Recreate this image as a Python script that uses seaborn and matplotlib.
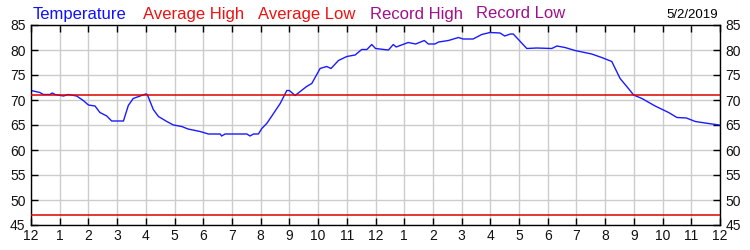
import matplotlib
matplotlib.use("Agg")
import matplotlib.pyplot as plt
import seaborn as sns
import pandas as pd

# ---- data ----
hours = [0.0, 0.31, 0.43, 0.66, 0.74, 0.84, 1.13, 1.3, 1.59, 1.82, 2.0, 2.23, 2.4, 2.64, 2.81,
         3.22, 3.39, 3.56, 3.8, 4.0, 4.05, 4.26, 4.44, 4.73, 4.96, 5.25, 5.47, 5.89, 6.18, 6.59,
         6.64, 6.76, 7.52, 7.63, 7.75, 7.92, 8.04, 8.21, 8.33, 8.68, 8.91, 9.0, 9.2, 9.6, 9.78,
         10.07, 10.3, 10.45, 10.71, 11.0, 11.29, 11.52, 11.7, 11.87, 12.0, 12.45, 12.62, 12.72,
         13.14, 13.4, 13.7, 13.84, 14.07, 14.2, 14.54, 14.89, 15.05, 15.4, 15.7, 15.99, 16.34,
         16.5, 16.7, 16.8, 17.27, 17.62, 18.14, 18.32, 18.6, 18.95, 19.53, 19.88, 20.23, 20.52,
         20.81, 20.99, 21.28, 21.74, 22.21, 22.5, 22.83, 23.14, 23.6, 23.97]
temps = [71.9, 71.5, 71.1, 71.1, 71.4, 71.1, 70.8, 71.1, 70.8, 69.9, 69.0, 68.8, 67.5, 66.8, 65.8,
         65.8, 68.9, 70.3, 70.8, 71.2, 71.1, 68.1, 66.7, 65.7, 65.0, 64.7, 64.2, 63.7, 63.2, 63.2,
         62.8, 63.2, 63.2, 62.8, 63.2, 63.2, 64.3, 65.3, 66.3, 69.3, 71.9, 71.9, 70.9, 72.7, 73.3,
         76.3, 76.7, 76.3, 77.9, 78.7, 79.0, 80.1, 80.1, 81.1, 80.3, 80.0, 81.1, 80.6,
         81.5, 81.2, 81.9, 81.2, 81.2, 81.6, 81.9, 82.5, 82.2, 82.2, 83.1, 83.5, 83.4,
         82.8, 83.2, 83.2, 80.3, 80.4, 80.3, 80.8, 80.5, 79.9, 79.2, 78.5, 77.7, 74.3,
         72.3, 71.0, 70.3, 68.8, 67.5, 66.5, 66.4, 65.7, 65.3, 65.0]
avg_high = 71
avg_low = 47
x_ticks = list(range(0, 25))
x_labels = ["12"] + [str(i) for i in range(1, 12)] + ["12"] + [str(i) for i in range(1, 12)] + ["12"]
y_ticks = [45, 50, 55, 60, 65, 70, 75, 80, 85]
legend_items = ["Temperature", "Average High", "Average Low", "Record High", "Record Low"]
legend_colors = ["#1010ff", "#ee1111", "#ee1111", "#a0108a", "#a0108a"]
date_label = "5/2/2019"

sns.set_style("white")
plt.rcParams["font.family"] = ["Liberation Sans", "DejaVu Sans"]

fig = plt.figure(figsize=(7.5, 2.5), dpi=100)
ax = fig.add_axes([31 / 750, 25 / 250, 689 / 750, 200 / 250])

df = pd.DataFrame({"hour": hours, "temp": temps})
sns.lineplot(data=df, x="hour", y="temp", ax=ax, color="#1a1aff", linewidth=1.0, sort=False)
ax.axhline(avg_high, color="#dd0000", linewidth=1.1, zorder=3)
ax.axhline(avg_low, color="#dd0000", linewidth=1.1, zorder=3)

ax.set_xlim(0, 24)
ax.set_ylim(45, 85)
ax.set_xticks(x_ticks)
ax.set_xticklabels(x_labels)
ax.set_yticks(y_ticks)
ax.set_xlabel("")
ax.set_ylabel("")
ax.grid(True, color="#cccccc", linewidth=1.0)
ax.set_axisbelow(True)
for s in ax.spines.values():
    s.set_color("black")
    s.set_linewidth(1.0)
ax.tick_params(axis="both", which="both", direction="in", length=5, width=1, color="black",
               labelsize=10, labelcolor="#111111", top=True, right=True, labelright=True,
               left=True, bottom=True, pad=3)
ax.tick_params(axis="y", pad=4)

xs = [33, 143, 258, 370, 476]
for x, t, c in zip(xs, legend_items, legend_colors):
    fig.text(x / 750, 1 - 18.5 / 250, t, color=c, fontsize=12, va="baseline", ha="left")
fig.text(718 / 750, 1 - 17.5 / 250, date_label, color="black", fontsize=9.5, va="baseline", ha="right")

fig.savefig("out.png", dpi=100)
